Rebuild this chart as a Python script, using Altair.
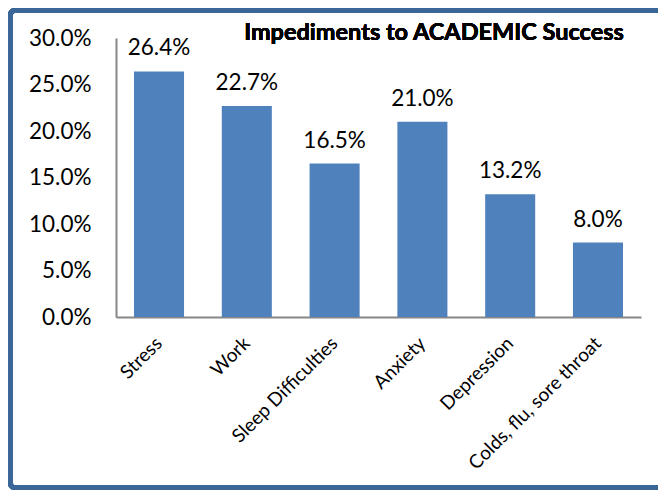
import altair as alt
import pandas as pd

categories = ["Stress", "Work", "Sleep Difficulties", "Anxiety", "Depression", "Colds, flu, sore throat"]
values = [0.264, 0.227, 0.165, 0.210, 0.132, 0.080]
y_ticks = [0.0, 0.05, 0.10, 0.15, 0.20, 0.25, 0.30]
title_text = "Impediments to ACADEMIC Success"

df = pd.DataFrame({"category": categories, "value": values})

FONT = "Lato"
BAR = "#4F81BD"
AXIS = "#868686"

x = alt.X("category:N", sort=categories, title=None,
          scale=alt.Scale(paddingInner=0.43, paddingOuter=0.205),
          axis=alt.Axis(labelAngle=-45, labelAlign="right", labelBaseline="middle",
                        labelPadding=23, ticks=False, domainColor=AXIS, domainWidth=2,
                        labelFont=FONT, labelFontSize=19, labelColor="#000000"))
y = alt.Y("value:Q", title=None,
          scale=alt.Scale(domain=[0, 0.30], nice=False),
          axis=alt.Axis(values=y_ticks, format=".1%", ticks=False, grid=False,
                        labelPadding=25, domainColor=AXIS, domainWidth=2,
                        labelFont=FONT, labelFontSize=22.5, labelColor="#000000"))

base = alt.Chart(df)
bars = base.mark_bar(color=BAR).encode(x=x, y=y)
labels = base.mark_text(font=FONT, fontSize=22.5, baseline="alphabetic", dy=-16, color="#000000").encode(
    x=alt.X("category:N", sort=categories),
    y="value:Q",
    text=alt.Text("value:Q", format=".1%"),
)
border = base.mark_rect(fill=None, stroke="#3B6698", strokeWidth=5, cornerRadius=4).encode(
    x=alt.value(-105.5), x2=alt.value(600), y=alt.value(-27.5), y2=alt.value(449.5)
)
title = base.mark_text(font=FONT, fontSize=23.5, fontWeight="bold", color="#000000",
                       align="center", baseline="alphabetic").encode(
    x=alt.value(318), y=alt.value(2), text=alt.datum(title_text)
)

chart = alt.layer(border, bars, labels, title).properties(
    width=525,
    height=279,
    autosize=alt.AutoSizeParams(type="none"),
    padding={"left": 108, "top": 30, "right": 17, "bottom": 173},
).configure(background="white").configure_view(stroke=None)

chart.save("out.html", embed_options={"renderer": "svg", "actions": False})
